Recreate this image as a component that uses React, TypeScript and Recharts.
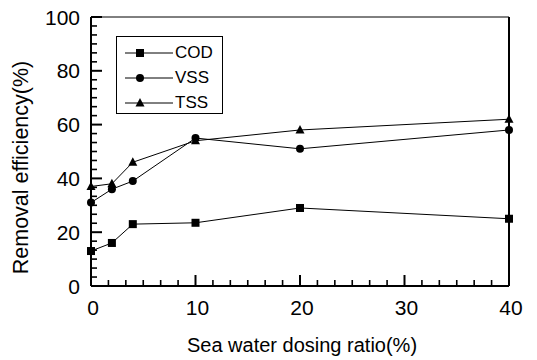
import React from "react";
import { LineChart, Line, XAxis, YAxis, Legend, ReferenceLine } from "recharts";

const doseRatio = [0, 2, 4, 10, 20, 40];
const codRemoval = [13, 16, 23, 23.5, 29, 25];
const vssRemoval = [31, 36, 39, 55, 51, 58];
const tssRemoval = [37, 38, 46, 54, 58, 62];

const xMajorTicks = [0, 10, 20, 30, 40];
const yMajorTicks = [0, 20, 40, 60, 80, 100];

const FONT = "'Liberation Sans', Arial, sans-serif";

// minor ticks: 6 divisions between x majors, 6 between y majors
const xTicks = Array.from({ length: 25 }, (_, i) => (i * 10) / 6);
const yTicks = Array.from({ length: 31 }, (_, i) => (i * 10) / 3);

const data = doseRatio.map((x, i) => ({
  x,
  cod: codRemoval[i],
  vss: vssRemoval[i],
  tss: tssRemoval[i],
}));

const isMajor = (v: number, list: number[]) =>
  list.some((m) => Math.abs(m - v) < 1e-6);

function XTick(props: any) {
  const { x, y, payload } = props;
  const major = isMajor(payload.value, xMajorTicks);
  return (
    <g>
      <line x1={x} x2={x} y1={y} y2={y - (major ? 11 : 6)} stroke="#000" strokeWidth={major ? 2 : 1.6} />
      {major && (
        <text x={x + 2} y={y + 29} textAnchor="middle" fontSize={21} fontFamily={FONT} fill="#000">
          {Math.round(payload.value)}
        </text>
      )}
    </g>
  );
}

function YTick(props: any) {
  const { x, y, payload } = props;
  const major = isMajor(payload.value, yMajorTicks);
  return (
    <g>
      <line x1={x} x2={x + (major ? 11 : 6)} y1={y} y2={y} stroke="#000" strokeWidth={major ? 2 : 1.6} />
      {major && (
        <text x={x - 11} y={y} dy="0.36em" textAnchor="end" fontSize={21} fontFamily={FONT} fill="#000">
          {Math.round(payload.value)}
        </text>
      )}
    </g>
  );
}

function SquareDot(props: any) {
  const { cx, cy } = props;
  if (cx == null || cy == null) return <g />;
  return <rect x={cx - 4} y={cy - 4} width={8} height={8} fill="#000" />;
}

function TriangleDot(props: any) {
  const { cx, cy } = props;
  if (cx == null || cy == null) return <g />;
  return <polygon points={`${cx},${cy - 5} ${cx - 4.5},${cy + 3.5} ${cx + 4.5},${cy + 3.5}`} fill="#000" />;
}

function Marker({ kind }: { kind: string }) {
  if (kind === "square") return <rect x={18} y={8} width={8} height={8} fill="#000" />;
  if (kind === "circle") return <circle cx={22} cy={12} r={4} fill="#000" />;
  return <polygon points="22,7 17.5,15.5 26.5,15.5" fill="#000" />;
}

const legendItems = [
  { label: "COD", kind: "square" },
  { label: "VSS", kind: "circle" },
  { label: "TSS", kind: "triangle" },
];

function LegendBox() {
  return (
    <div
      style={{
        width: 107,
        height: 78,
        boxSizing: "border-box",
        border: "1.5px solid #000",
        background: "#fff",
        paddingTop: 3,
        fontFamily: FONT,
      }}
    >
      {legendItems.map((it) => (
        <div key={it.label} style={{ display: "flex", alignItems: "center", height: 25 }}>
          <svg width={57} height={24} style={{ marginLeft: 1 }}>
            <line x1={7} x2={55} y1={12} y2={12} stroke="#000" strokeWidth={1} />
            <Marker kind={it.kind} />
          </svg>
          <span style={{ fontSize: 17, color: "#000", lineHeight: "25px" }}>{it.label}</span>
        </div>
      ))}
    </div>
  );
}

export default function App() {
  return (
    <div style={{ position: "absolute", left: 0, top: 0, width: 537, height: 360, background: "#fff" }}>
      <LineChart width={537} height={360} data={data} margin={{ top: 17, right: 28, bottom: 0, left: 0 }}>
        <XAxis
          dataKey="x"
          type="number"
          domain={[0, 40]}
          ticks={xTicks}
          interval={0}
          tickSize={0}
          tickMargin={0}
          tickLine={false}
          height={74}
          axisLine={{ stroke: "#000", strokeWidth: 2 }}
          tick={<XTick />}
          label={{
            content: (p: any) => {
              const vb = p.viewBox;
              return (
                <text x={vb.x + vb.width / 2 + 2} y={vb.y + 66} textAnchor="middle" fontSize={20} fontFamily={FONT} fill="#000">
                  Sea water dosing ratio(%)
                </text>
              );
            },
          }}
        />
        <YAxis
          type="number"
          domain={[0, 100]}
          ticks={yTicks}
          interval={0}
          tickSize={0}
          tickMargin={0}
          tickLine={false}
          width={91}
          axisLine={{ stroke: "#000", strokeWidth: 2 }}
          tick={<YTick />}
          label={{
            content: (p: any) => {
              const vb = p.viewBox;
              const cx = vb.x + 20;
              const cy = vb.y + vb.height / 2 + 16;
              return (
                <text x={cx} y={cy} transform={`rotate(-90 ${cx} ${cy})`} textAnchor="middle" dy="0.36em" fontSize={21.5} fontFamily={FONT} fill="#000">
                  Removal efficiency(%)
                </text>
              );
            },
          }}
        />
        <ReferenceLine x={40} stroke="#000" strokeWidth={2} />
        <ReferenceLine y={100} stroke="#000" strokeWidth={1} />
        <Legend
          layout="vertical"
          align="center"
          verticalAlign="middle"
          content={() => <LegendBox />}
          wrapperStyle={{ left: 116, top: 36, width: 107, height: 78 }}
        />
        <Line dataKey="cod" name="COD" stroke="#000" strokeWidth={1} dot={<SquareDot />} isAnimationActive={false} />
        <Line dataKey="vss" name="VSS" stroke="#000" strokeWidth={1} dot={{ r: 4, fill: "#000", stroke: "#000", strokeWidth: 0 }} isAnimationActive={false} />
        <Line dataKey="tss" name="TSS" stroke="#000" strokeWidth={1} dot={<TriangleDot />} isAnimationActive={false} />
      </LineChart>
    </div>
  );
}
